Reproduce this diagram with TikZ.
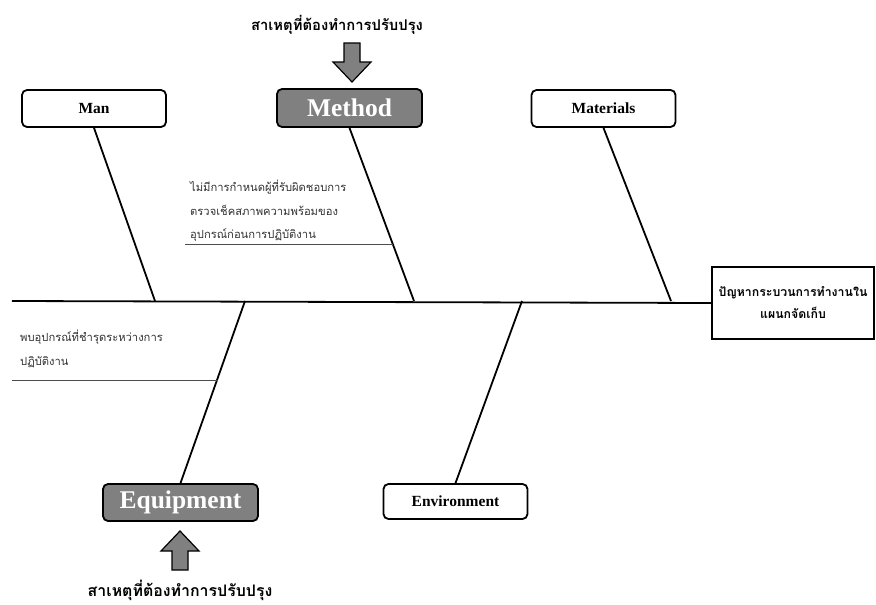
\documentclass[tikz,border=0pt]{standalone}
\usepackage{fontspec}
\setmainfont{Liberation Serif}
\newfontfamily\thaifont[Script=Thai]{Loma}
\usetikzlibrary{positioning}
\definecolor{boxgray}{HTML}{808080}
\tikzset{
  catbox/.style={draw=black, line width=1.8pt, rounded corners=5pt, fill=white, minimum width=144pt, minimum height=37pt, inner sep=0pt, font=\bfseries\fontsize{15.5}{17}\selectfont},
  keybox/.style={catbox, fill=boxgray, text=white, font=\bfseries\fontsize{25.5}{27}\selectfont},
  bone/.style={line width=1.8pt, black},
  noteline/.style={line width=0.7pt, black!70},
  notetext/.style={align=left, inner sep=0pt, anchor=north west, font=\thaifont\fontsize{11.2}{23.5}\selectfont, text=black!80},
  blockarrow/.style={draw=black, line width=1.2pt, fill=boxgray, line join=miter},
  cause/.style={font=\thaifont\bfseries\fontsize{14.8}{16}\selectfont, inner sep=0pt}
}
\begin{document}
\begin{tikzpicture}[x=1pt,y=-1pt]
\useasboundingbox (0,0) rectangle (876,605);
% category boxes
\node[catbox] (man) at (94,108.5) {Man};
\node[keybox, minimum width=145pt, minimum height=38pt] (method) at (349.5,108) {Method};
\node[catbox] (mat) at (603.5,108.5) {Materials};
\node[keybox, minimum width=155pt] (equip) at (180.5,502.5) {Equipment};
\node[catbox, minimum height=35pt] (env) at (455.5,501.5) {Environment};
% effect
\node[draw=black, line width=1.8pt, minimum width=162pt, minimum height=72pt, inner sep=0pt, align=center, font=\thaifont\bfseries\fontsize{12.3}{22}\selectfont] (effect) at (793,303) {ปัญหากระบวนการทำงานใน\\แผนกจัดเก็บ};
% spine
\coordinate (s0) at (12,301);
\coordinate (pman) at (155,301);
\coordinate (pmethod) at (414,301);
\coordinate (pmat) at (671,301);
\coordinate (pequip) at (245,301);
\coordinate (penv) at (522,301);
\draw[bone] (s0) -- (effect.west);
\draw[bone] (man.south) -- (pman);
\draw[bone] (method.south) -- (pmethod);
\draw[bone] (mat.south) -- (pmat);
\draw[bone] (equip.north) -- (pequip);
\draw[bone] (env.north) -- (penv);
% notes
\node[notetext] (n1) at (190,180) {ไม่มีการกำหนดผู้ที่รับผิดชอบการ\\ตรวจเช็คสภาพความพร้อมของ\\อุปกรณ์ก่อนการปฏิบัติงาน};
\coordinate (u1a) at (185,244);
\coordinate (u1b) at (392.7,244);
\draw[noteline] (u1a) -- (u1b);
\node[notetext] (n2) at (20,330) {พบอุปกรณ์ที่ชำรุดระหว่างการ\\ปฏิบัติงาน};
\coordinate (u2a) at (12,380);
\coordinate (u2b) at (217.5,380);
\draw[noteline] (u2a) -- (u2b);
% cause labels and arrows
\node[cause] (c1) at (337,25) {สาเหตุที่ต้องทำการปรับปรุง};
\node[cause, font=\thaifont\bfseries\fontsize{15.9}{17}\selectfont] (c2) at (180,590) {สาเหตุที่ต้องทำการปรับปรุง};
\draw[blockarrow] (344,43) -- (360,43) -- (360,62) -- (371,62) -- (352,82) -- (333,62) -- (344,62) -- cycle;
\draw[blockarrow] (172,570) -- (188,570) -- (188,551) -- (199,551) -- (180,531) -- (161,551) -- (172,551) -- cycle;
\end{tikzpicture}
\end{document}
